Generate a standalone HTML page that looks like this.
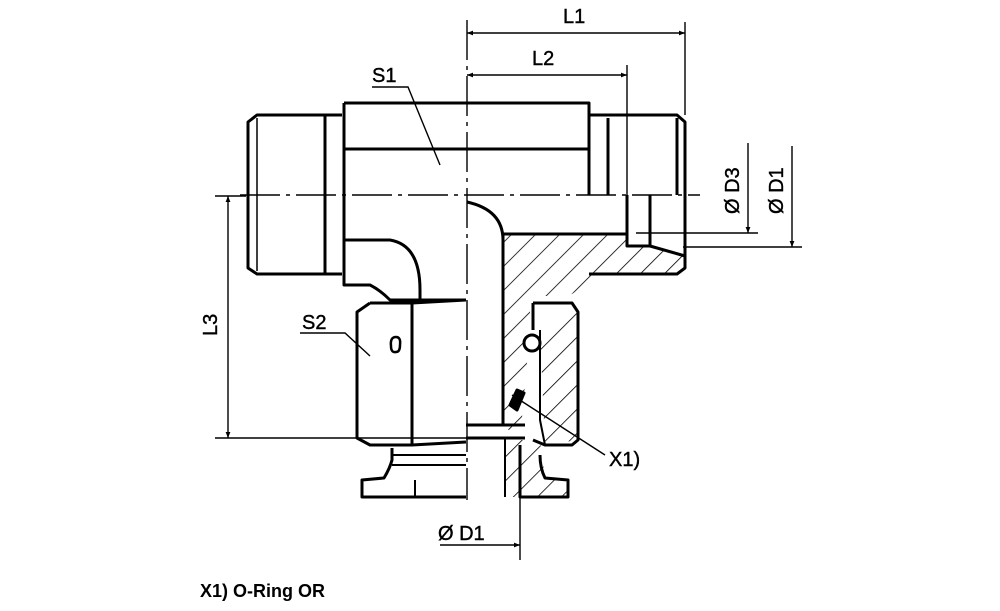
<!DOCTYPE html>
<html><head><meta charset="utf-8"><style>
html,body{margin:0;padding:0;background:#fff;}
svg{display:block;}
text{font-family:"Liberation Sans",sans-serif;fill:#000;}
</style></head><body>
<svg width="1000" height="611" viewBox="0 0 1000 611" xmlns="http://www.w3.org/2000/svg">
<defs>
<marker id="a" viewBox="0 0 10 10" refX="10" refY="5" markerWidth="14" markerHeight="6" markerUnits="userSpaceOnUse" orient="auto"><path d="M0,1 L10,5 L0,9z" fill="#000"/></marker>
<marker id="b" viewBox="0 0 10 10" refX="0" refY="5" markerWidth="14" markerHeight="6" markerUnits="userSpaceOnUse" orient="auto"><path d="M10,1 L0,5 L10,9z" fill="#000"/></marker>
<pattern id="h" width="17" height="17" patternUnits="userSpaceOnUse" patternTransform="rotate(45)"><line x1="0" y1="0" x2="0" y2="17" stroke="#000" stroke-width="1.6"/></pattern>
</defs>
<g fill="none" stroke="#000" stroke-width="3" stroke-linejoin="round">
<path d="M342,115 L257,115 L248,122 L248,268 L257,274 L342,274"/>
<line x1="257" y1="118" x2="257" y2="271" stroke-width="1.5"/>
<line x1="325" y1="115" x2="325" y2="274"/>
<path d="M589,115 L677,115 L685,122 L685,268 L677,274 L589,274"/>
<line x1="608" y1="118" x2="608" y2="195"/>
<line x1="677" y1="118" x2="677" y2="195"/>
<path d="M344,103 L589,103 L589,195"/>
<line x1="344" y1="149" x2="589" y2="149"/>
<path d="M344,103 L344,285 L370,285 Q380,290 390,300 L466,300"/>
<path d="M345,240 L390,240 Q420,245 420,290 L420,300"/>
<path d="M467,202 Q503,210 503,240"/>
<line x1="503" y1="234" x2="627" y2="234"/>
<path d="M627,195 L627,246 L650,246 L685,256"/>
<line x1="650" y1="195" x2="650" y2="246"/>
<path d="M503,234 L627,234 L627,246 L650,246 L685,256 L685,274 L603,274 L589,280 Q575,295 565,296 L540,296 Q530,300 530,310 L530,330 L520,440 L503,425 Z" fill="url(#h)" stroke-width="0"/>
<path d="M540,330 L578,312 L578,440 L545,445 Z" fill="url(#h)" stroke-width="0"/>
<path d="M505,440 L540,440 L545,478 L568,480 L568,497 L505,497 Z" fill="url(#h)" stroke-width="0"/>
<line x1="503" y1="234" x2="503" y2="425"/>
<line x1="466" y1="425" x2="525" y2="425"/>
<line x1="466" y1="438" x2="525" y2="438"/>
<path d="M370,303 L357,312 L357,438 L370,445 L412,445 L466,442"/>
<path d="M370,303 L412,303 L466,300"/>
<line x1="412" y1="303" x2="412" y2="445"/>
<path d="M396,337 Q390,337 391,346 Q391,353 396,352 Q400,352 400,345 Q401,337 396,337 Z" stroke-width="2.5"/>
<path d="M533,303 L572,303 L578,312 L578,440 L572,445 L545,445 L533,440"/>
<line x1="533" y1="303" x2="533" y2="330"/>
<path d="M540,330 L540,420 L545,445" stroke-width="2"/>
<circle cx="532" cy="343" r="8" stroke-width="3" fill="#fff"/>
<path d="M510,405 L517,390 L524,393 L517,410 Z" fill="#000"/>
<path d="M392,448 L392,460 Q390,468 384,478 L362,480 L362,497 L466,497"/>
<path d="M520,445 L520,497 L568,497 L568,480 L545,478 Q540,468 540,455"/>
<line x1="392" y1="455" x2="466" y2="455" stroke-width="2"/>
<line x1="392" y1="465" x2="466" y2="465" stroke-width="2"/>
<line x1="415" y1="480" x2="415" y2="497" stroke-width="2"/>
<line x1="505" y1="438" x2="505" y2="497" stroke-width="2"/>
</g>
<g stroke="#000" stroke-width="1.4" fill="none">
<line x1="467" y1="20" x2="467" y2="500" stroke-dasharray="40,6,4,6"/>
<line x1="240" y1="195" x2="700" y2="195" stroke-dasharray="40,6,4,6"/>
<line x1="685" y1="22" x2="685" y2="115"/>
<line x1="627" y1="65" x2="627" y2="195"/>
<line x1="467" y1="33" x2="685" y2="33" marker-start="url(#b)" marker-end="url(#a)"/>
<line x1="467" y1="75" x2="627" y2="75" marker-start="url(#b)" marker-end="url(#a)"/>
<line x1="636" y1="233" x2="758" y2="233"/>
<line x1="683" y1="247" x2="802" y2="247"/>
<line x1="748" y1="143" x2="748" y2="233" marker-end="url(#a)"/>
<line x1="792" y1="146" x2="792" y2="247" marker-end="url(#a)"/>
<line x1="215" y1="196" x2="246" y2="196"/>
<line x1="215" y1="438" x2="466" y2="438"/>
<line x1="228" y1="196" x2="228" y2="438" marker-start="url(#b)" marker-end="url(#a)"/>
<line x1="520" y1="497" x2="520" y2="560"/>
<line x1="440" y1="545" x2="520" y2="545" marker-end="url(#a)"/>
<polyline points="372,87 408,87 440,165"/>
<polyline points="300,333 345,333 370,356"/>
<polyline points="512,395 605,455"/>
</g>
<g font-size="20" stroke="#000" stroke-width="0.4">
<text x="372" y="82">S1</text>
<text x="302" y="329">S2</text>
<text x="563" y="23">L1</text>
<text x="532" y="65">L2</text>
<text x="609" y="466">X1)</text>
<text x="438" y="540">Ø D1</text>
<text transform="translate(217,336) rotate(-90)">L3</text>
<text transform="translate(739,214) rotate(-90)">Ø D3</text>
<text transform="translate(783,214) rotate(-90)">Ø D1</text>
</g>
<text x="200" y="597" font-size="18" font-weight="bold">X1) O-Ring OR</text>
</svg>
</body></html>
